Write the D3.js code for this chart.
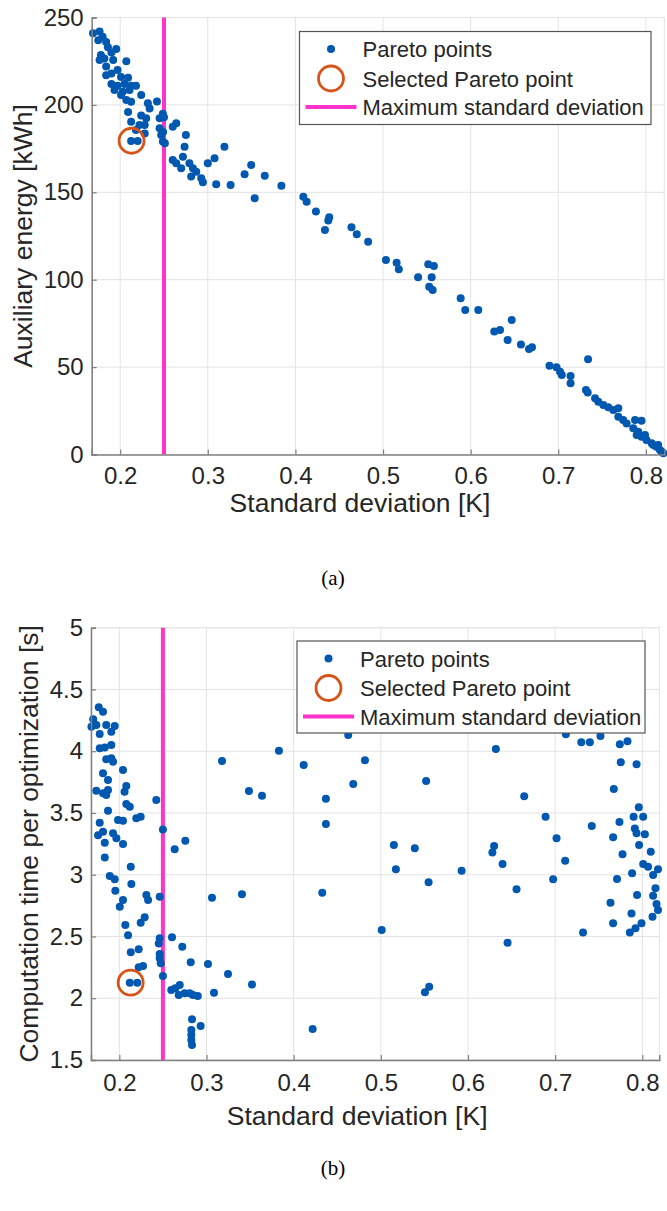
<!DOCTYPE html>
<html lang="en">
<head>
<meta charset="utf-8">
<title>Pareto front</title>
<script src="https://d3js.org/d3.v7.min.js"></script>
<style>
  body { margin: 0; background: #fff; }
  text { font-family: "Liberation Sans", Arial, sans-serif; fill: #262626; }
  .caption { font-family: "Liberation Serif", "Times New Roman", serif; fill: #000; }
</style>
</head>
<body>
<script>
// panel (a): standard deviation [K] vs auxiliary energy [kWh]
var stdDevA = [
  0.169,0.1765,0.180,0.175,0.184,0.186,0.1955,0.190,0.178,0.1765,
  0.182,0.192,0.207,0.184,0.197,0.190,0.184,0.201,0.209,0.190,
  0.197,0.205,0.2125,0.218,0.1935,0.203,0.2107,0.201,0.224,0.207,
  0.2125,0.2316,0.242,0.209,0.224,0.2336,0.2297,0.2487,0.2125,0.222,
  0.228,0.245,0.264,0.260,0.218,0.228,0.245,0.275,0.2468,0.2125,
  0.220,0.2487,0.2735,0.319,0.260,0.2716,0.264,0.2696,0.279,0.283,
  0.2868,0.281,0.2925,0.2944,0.300,0.3077,0.3096,0.326,0.342,0.3495,
  0.365,0.3535,0.384,0.250,0.251,0.249,0.409,0.4128,0.4234,0.4386,
  0.4375,0.4337,0.464,0.470,0.483,0.5033,0.5155,0.518,0.540,0.5516,
  0.558,0.5555,0.5527,0.5566,0.5886,0.5938,0.6087,0.627,0.6335,0.6468,
  0.6422,0.6574,0.6666,0.670,0.690,0.698,0.702,0.704,0.714,0.714,
  0.734,0.7316,0.7336,0.742,0.7457,0.7514,0.757,0.7628,0.7685,0.7685,
  0.774,0.778,0.7876,0.795,0.7856,0.7913,0.7895,0.795,0.799,0.8007,
  0.8066,0.8085,0.812,0.814,0.816,0.818,0.820
];
var energyA = [
  241,242,239,237,236,233,232,230,228.5,225.7,
  226.6,225.7,225,222,220,218,217,216,215.6,212,
  211,212,211,211,208.5,207.5,208.5,205.7,205.7,202.8,
  201.8,201,202,196,194,198,192.3,195,190.4,188.5,
  188.5,192.3,189.5,187.5,185.6,183.7,186.6,182.8,182.8,179.3,
  179.3,179,176,176,168.5,170.4,166.6,163.7,166.6,163.7,
  161.8,159,158,155.7,166.6,169.5,154.6,154.2,160.3,165.6,
  159.5,146.6,153.8,193,178,184.5,147.5,144.6,139,135.7,
  133.8,128.4,130,126,121.7,111.3,109.7,106,101.4,108.8,
  107.8,101.4,96,94.1,89.4,82.7,82.7,70.3,71.2,77,
  65.5,63,60.4,61.3,50.8,49.9,47.4,45.5,44.9,40.7,
  54.5,36.9,35.4,32.2,30.2,28.3,27,25.5,26.4,21.6,
  19.7,17.8,19.7,19.3,15,13,11.2,10.2,11.2,8.3,
  6.4,5.4,4.5,5.4,2.6,1.6,0.7
];

// panel (b): standard deviation [K] vs computation time per optimization [s]
var stdDevB = [
  0.1764,0.1813,0.170,0.168,0.1736,0.1775,0.185,0.1947,0.1908,0.1775,
  0.1833,0.1908,0.185,0.1908,0.1928,0.2042,0.1813,0.187,0.208,0.206,
  0.1736,0.1813,0.185,0.187,0.208,0.212,0.2424,0.187,0.1775,0.1985,
  0.2042,0.2195,0.2245,0.250,0.1756,0.1813,0.1928,0.1966,0.2042,0.1833,
  0.1833,0.2635,0.2757,0.2131,0.189,0.1947,0.2138,0.1954,0.231,0.233,
  0.2042,0.2005,0.2463,0.3063,0.3407,0.2291,0.2245,0.2069,0.210,0.2463,
  0.2452,0.2604,0.2722,0.2131,0.2222,0.2463,0.2463,0.2475,0.2819,0.3017,
  0.2222,0.2272,0.250,0.3247,0.3522,0.212,0.2206,0.2596,0.2642,0.2693,
  0.2681,0.275,0.2807,0.2845,0.290,0.3086,0.2834,0.2933,0.2826,0.2826,
  0.2826,0.2834,0.3178,0.3487,0.3637,0.3831,0.4115,0.437,0.437,0.4328,
  0.4218,0.4626,0.4818,0.4684,0.552,0.632,0.6645,0.689,0.7123,0.730,
  0.7398,0.752,0.7742,0.783,0.7753,0.7934,0.7673,0.796,0.790,0.801,
  0.742,0.7738,0.7914,0.7934,0.8029,0.7016,0.7665,0.515,0.539,0.5173,
  0.5548,0.5927,0.628,0.630,0.6397,0.6557,0.6977,0.7115,0.501,0.6454,
  0.5506,0.5555,0.732,0.7773,0.771,0.7883,0.7635,0.7665,0.7876,0.7857,
  0.7922,0.7991,0.794,0.7963,0.8097,0.801,0.8066,0.8124,0.818,0.8151,
  0.8124,0.8163,0.818,0.8117
];
var compTimeB = [
  4.355,4.32,4.258,4.198,4.212,4.14,4.212,4.204,4.158,4.023,
  4.03,4.05,3.935,3.943,3.915,3.848,3.821,3.767,3.718,3.672,
  3.68,3.659,3.645,3.686,3.572,3.55,3.605,3.518,3.421,3.443,
  3.437,3.457,3.47,3.367,3.32,3.348,3.335,3.295,3.249,3.259,
  3.14,3.206,3.275,3.065,2.99,2.963,2.925,2.871,2.835,2.795,
  2.795,2.741,2.822,2.814,2.841,2.655,2.611,2.593,2.509,2.485,
  2.444,2.493,2.417,2.372,2.396,2.358,2.323,2.283,2.291,2.277,
  2.25,2.261,2.18,2.196,2.112,2.126,2.126,2.066,2.08,2.107,
  2.026,2.04,2.04,2.026,2.018,2.045,1.829,1.775,1.743,1.702,
  1.662,1.621,3.921,3.678,3.64,4.004,3.888,3.615,3.41,2.854,
  1.75,4.131,3.926,3.734,3.759,4.018,3.635,3.47,4.137,4.072,
  4.072,4.123,4.056,4.08,3.91,3.894,3.694,3.546,3.47,3.47,
  3.394,3.427,3.375,3.335,3.327,3.295,3.303,3.24,3.214,3.044,
  2.94,3.032,3.18,3.232,3.087,2.882,2.963,3.113,2.552,2.45,
  2.048,2.093,2.533,3.165,2.965,3.011,2.773,2.607,2.687,2.533,
  2.566,2.607,2.836,3.24,3.186,3.087,3.065,2.998,3.044,2.89,
  2.83,2.763,2.714,2.66
];

var selectedA = [0.213, 179.5];
var selectedB = [0.213, 2.126];
var maxStdDev = 0.25;

var xTicks = [0.2, 0.3, 0.4, 0.5, 0.6, 0.7, 0.8];
var yTicksA = [0, 50, 100, 150, 200, 250];
var yTicksB = [1.5, 2, 2.5, 3, 3.5, 4, 4.5, 5];
var legendLabels = ["Pareto points", "Selected Pareto point", "Maximum standard deviation"];

var W = 667, H = 1211;
var blue = "#0058b0", orange = "#d95319", magenta = "#ff33cc";

var svg = d3.select("body").append("svg").attr("width", W).attr("height", H);

function drawPanel(p) {
  var x = d3.scaleLinear().domain(p.xDomain).range([p.left, p.right]);
  var y = d3.scaleLinear().domain(p.yDomain).range([p.bottom, p.top]);
  var g = svg.append("g");

  // light frame + grid
  g.append("rect").attr("x", p.left).attr("y", p.top)
    .attr("width", p.right - p.left).attr("height", p.bottom - p.top)
    .attr("fill", "none").attr("stroke", "#e3e3e3").attr("stroke-width", 1);
  g.selectAll(".gx").data(xTicks).enter().append("line")
    .attr("x1", d => x(d)).attr("x2", d => x(d))
    .attr("y1", p.top).attr("y2", p.bottom)
    .attr("stroke", "#e3e3e3").attr("stroke-width", 1);
  g.selectAll(".gy").data(p.yTicks).enter().append("line")
    .attr("x1", p.left).attr("x2", p.right)
    .attr("y1", d => y(d)).attr("y2", d => y(d))
    .attr("stroke", "#e3e3e3").attr("stroke-width", 1);

  // max std dev line
  g.append("line").attr("x1", x(maxStdDev)).attr("x2", x(maxStdDev))
    .attr("y1", p.top).attr("y2", p.bottom)
    .attr("stroke", magenta).attr("stroke-width", 4);

  // points
  g.selectAll(".pt").data(p.xs).enter().append("circle")
    .attr("cx", d => x(d)).attr("cy", (d, i) => y(p.ys[i]))
    .attr("r", 4).attr("fill", blue);

  // selected point
  g.append("circle").attr("cx", x(p.sel[0])).attr("cy", y(p.sel[1]))
    .attr("r", 12.5).attr("fill", "none").attr("stroke", orange).attr("stroke-width", 2.8);

  // axes
  var xAxis = g.append("g").attr("transform", "translate(0," + p.bottom + ")")
    .call(d3.axisBottom(x).tickValues(xTicks).tickSize(-5).tickPadding(p.xPad).tickFormat(d3.format(".1f")));
  var yAxis = g.append("g").attr("transform", "translate(" + p.left + ",0)")
    .call(d3.axisLeft(y).tickValues(p.yTicks).tickSize(-5).tickPadding(8).tickFormat(d => String(d)));
  [xAxis, yAxis].forEach(function (a) {
    a.select(".domain").attr("stroke", "#808080").attr("stroke-width", 1.5);
    a.selectAll(".tick line").attr("stroke", "#808080").attr("stroke-width", 1.2);
    a.selectAll(".tick text").attr("font-size", 24).attr("fill", "#262626")
      .attr("font-family", "'Liberation Sans', Arial, sans-serif");
  });

  g.append("text").attr("x", (p.left + p.right) / 2 - 18).attr("y", p.xLabelY)
    .attr("text-anchor", "middle").attr("font-size", 26.5).text("Standard deviation [K]");
  g.append("text").attr("transform", "translate(" + p.yLabelX + "," + ((p.top + p.bottom) / 2) + ") rotate(-90)")
    .attr("text-anchor", "middle").attr("font-size", 26.5).text(p.yLabel);

  // legend
  var L = p.legend;
  var lg = g.append("g");
  lg.append("rect").attr("x", L.x).attr("y", L.y).attr("width", L.w).attr("height", L.h)
    .attr("fill", "#fff").attr("stroke", "#555").attr("stroke-width", 1.2);
  var rowY = [L.y + 17.5, L.y + 47, L.y + 75.5];
  lg.append("circle").attr("cx", L.x + 31.5).attr("cy", rowY[0]).attr("r", 4).attr("fill", blue);
  lg.append("circle").attr("cx", L.x + 31.5).attr("cy", rowY[1]).attr("r", 12.5)
    .attr("fill", "none").attr("stroke", orange).attr("stroke-width", 2.8);
  lg.append("line").attr("x1", L.x + 6).attr("x2", L.x + 57).attr("y1", rowY[2]).attr("y2", rowY[2])
    .attr("stroke", magenta).attr("stroke-width", 4);
  lg.selectAll(".lt").data(legendLabels).enter().append("text")
    .attr("x", L.x + 63).attr("y", (d, i) => rowY[i] + 8)
    .attr("font-size", 22).attr("fill", "#000").text(d => d);

  svg.append("text").attr("class", "caption").attr("x", 333).attr("y", p.captionY)
    .attr("text-anchor", "middle").attr("font-size", 21).text(p.caption);
}

drawPanel({
  xs: stdDevA, ys: energyA, sel: selectedA,
  xDomain: [0.1675, 0.821], yDomain: [0, 250], yTicks: yTicksA,
  left: 91.7, right: 664.3, top: 17.5, bottom: 454.5,
  yLabel: "Auxiliary energy [kWh]", yLabelX: 32, xLabelY: 512, xPad: 12,
  legend: { x: 299.5, y: 31.5, w: 351.5, h: 93 },
  caption: "(a)", captionY: 585
});

drawPanel({
  xs: stdDevB, ys: compTimeB, sel: selectedB,
  xDomain: [0.1675, 0.8195], yDomain: [1.5, 5], yTicks: yTicksB,
  left: 91, right: 659.3, top: 627.7, bottom: 1060,
  yLabel: "Computation time per optimization [s]", yLabelX: 38, xLabelY: 1125, xPad: 14,
  legend: { x: 297, y: 641, w: 348, h: 92 },
  caption: "(b)", captionY: 1175
});
</script>
</body>
</html>
